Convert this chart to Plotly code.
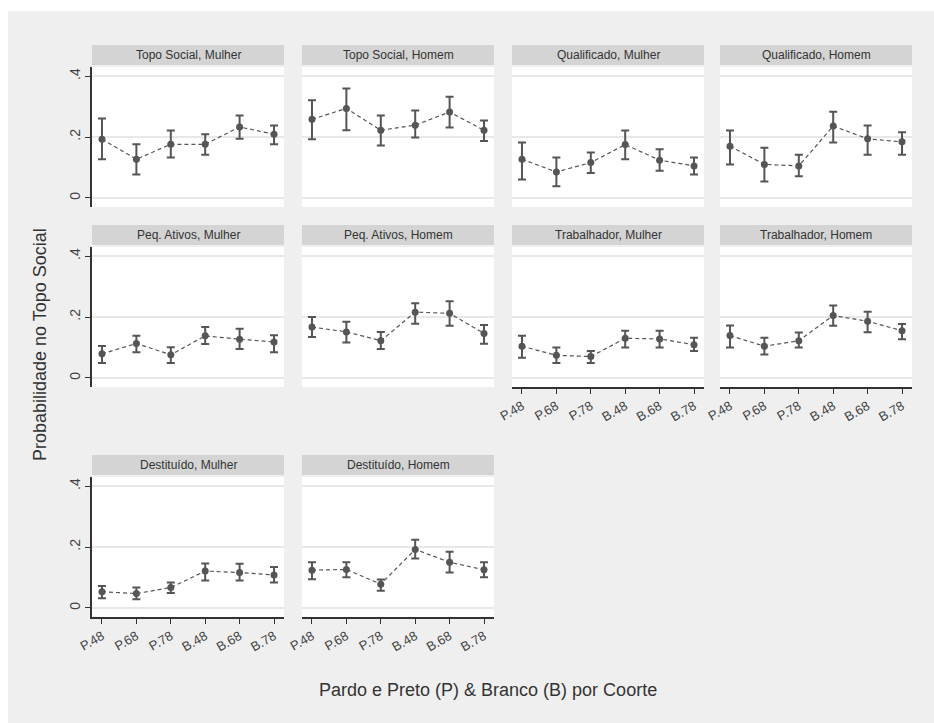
import plotly.graph_objects as go

# Cohort categories on the x axis
cohorts = ["P.48", "P.68", "P.78", "B.48", "B.68", "B.78"]
xpos = [1, 2, 3, 4, 5, 6]

# Panel titles (origin class, sex), in row-major order
panel_titles = [
    "Topo Social, Mulher", "Topo Social, Homem",
    "Qualificado, Mulher", "Qualificado, Homem",
    "Peq. Ativos, Mulher", "Peq. Ativos, Homem",
    "Trabalhador, Mulher", "Trabalhador, Homem",
    "Destituído, Mulher", "Destituído, Homem",
]

# Predicted probabilities and 95% confidence bounds per panel
topo_mulher_est = [0.193, 0.127, 0.176, 0.176, 0.233, 0.209]
topo_mulher_lo = [0.127, 0.077, 0.133, 0.142, 0.194, 0.176]
topo_mulher_hi = [0.261, 0.176, 0.221, 0.209, 0.271, 0.238]

topo_homem_est = [0.258, 0.294, 0.222, 0.239, 0.282, 0.222]
topo_homem_lo = [0.193, 0.222, 0.172, 0.198, 0.231, 0.187]
topo_homem_hi = [0.321, 0.359, 0.271, 0.287, 0.332, 0.254]

qual_mulher_est = [0.127, 0.085, 0.116, 0.175, 0.124, 0.105]
qual_mulher_lo = [0.060, 0.038, 0.082, 0.127, 0.089, 0.077]
qual_mulher_hi = [0.182, 0.133, 0.149, 0.221, 0.160, 0.133]

qual_homem_est = [0.170, 0.110, 0.105, 0.236, 0.194, 0.184]
qual_homem_lo = [0.110, 0.054, 0.071, 0.182, 0.142, 0.142]
qual_homem_hi = [0.221, 0.165, 0.142, 0.283, 0.238, 0.216]

peq_mulher_est = [0.079, 0.113, 0.076, 0.138, 0.127, 0.118]
peq_mulher_lo = [0.049, 0.084, 0.049, 0.111, 0.095, 0.084]
peq_mulher_hi = [0.105, 0.138, 0.101, 0.167, 0.161, 0.140]

peq_homem_est = [0.167, 0.151, 0.122, 0.216, 0.212, 0.146]
peq_homem_lo = [0.134, 0.116, 0.095, 0.178, 0.171, 0.112]
peq_homem_hi = [0.200, 0.184, 0.151, 0.245, 0.252, 0.174]

trab_mulher_est = [0.104, 0.074, 0.070, 0.130, 0.128, 0.109]
trab_mulher_lo = [0.066, 0.049, 0.049, 0.100, 0.100, 0.088]
trab_mulher_hi = [0.138, 0.100, 0.088, 0.155, 0.155, 0.132]

trab_homem_est = [0.139, 0.104, 0.122, 0.205, 0.186, 0.155]
trab_homem_lo = [0.100, 0.077, 0.100, 0.171, 0.150, 0.127]
trab_homem_hi = [0.172, 0.132, 0.149, 0.238, 0.217, 0.177]

dest_mulher_est = [0.053, 0.047, 0.067, 0.121, 0.116, 0.108]
dest_mulher_lo = [0.032, 0.028, 0.049, 0.090, 0.090, 0.083]
dest_mulher_hi = [0.072, 0.067, 0.083, 0.146, 0.145, 0.134]

dest_homem_est = [0.124, 0.126, 0.078, 0.192, 0.150, 0.125]
dest_homem_lo = [0.094, 0.101, 0.056, 0.162, 0.116, 0.101]
dest_homem_hi = [0.150, 0.150, 0.093, 0.224, 0.184, 0.150]

panels = [
    (topo_mulher_est, topo_mulher_lo, topo_mulher_hi),
    (topo_homem_est, topo_homem_lo, topo_homem_hi),
    (qual_mulher_est, qual_mulher_lo, qual_mulher_hi),
    (qual_homem_est, qual_homem_lo, qual_homem_hi),
    (peq_mulher_est, peq_mulher_lo, peq_mulher_hi),
    (peq_homem_est, peq_homem_lo, peq_homem_hi),
    (trab_mulher_est, trab_mulher_lo, trab_mulher_hi),
    (trab_homem_est, trab_homem_lo, trab_homem_hi),
    (dest_mulher_est, dest_mulher_lo, dest_mulher_hi),
    (dest_homem_est, dest_homem_lo, dest_homem_hi),
]

y_ticks = [0, 0.2, 0.4]
y_ticktext = ["0", ".2", ".4"]

W, H = 934, 723
FONT = "Liberation Sans, Arial, sans-serif"
MARK = "#555555"
AXIS = "#333333"

# Pixel geometry of the 3x4 facet grid
col_left = [92, 302, 512, 720]
col_width = 192
row_top = [67, 247, 477]
row_height = 140
strip_h = 20

fig = go.Figure()
layout = {}
shapes = []
annotations = []

for i, (est, lo, hi) in enumerate(panels):
    r, c = divmod(i, 4)
    n = i + 1
    xa = "xaxis" if n == 1 else f"xaxis{n}"
    ya = "yaxis" if n == 1 else f"yaxis{n}"
    xr = "x" if n == 1 else f"x{n}"
    yr = "y" if n == 1 else f"y{n}"

    x0 = col_left[c] / W
    x1 = (col_left[c] + col_width) / W
    y1 = 1 - row_top[r] / H
    y0 = 1 - (row_top[r] + row_height) / H

    err_up = [h - e for h, e in zip(hi, est)]
    err_dn = [e - l for e, l in zip(est, lo)]

    fig.add_trace(go.Scatter(
        x=xpos, y=est, xaxis=xr, yaxis=yr, mode="lines+markers",
        line=dict(color=MARK, width=1.2, dash="4px,3px"),
        marker=dict(color=MARK, size=7, symbol="circle"),
        error_y=dict(type="data", symmetric=False, array=err_up,
                     arrayminus=err_dn, color=MARK, thickness=2, width=4),
        showlegend=False, hoverinfo="skip",
    ))

    bottom_axis = (r == 2) or (r == 1 and c >= 2)
    first_col = c == 0

    layout[xa] = dict(
        domain=[x0, x1], anchor=yr, range=[0.71, 6.29], automargin=False,
        tickvals=xpos, ticktext=cohorts,
        showticklabels=bottom_axis, showgrid=False, zeroline=False,
        showline=bottom_axis, linecolor=AXIS, linewidth=1.5,
        ticks="outside" if bottom_axis else "", ticklen=5, tickwidth=1.2,
        tickcolor=AXIS, tickangle=-30,
        tickfont=dict(family=FONT, size=13, color="#444444"),
        fixedrange=True,
    )
    layout[ya] = dict(
        domain=[y0, y1], anchor=xr, range=[-0.03, 0.43], automargin=False,
        tickvals=y_ticks, ticktext=y_ticktext,
        showticklabels=first_col, showgrid=True, gridcolor="#e8e8e8",
        gridwidth=1.5, zeroline=False,
        showline=first_col, linecolor=AXIS, linewidth=1.5,
        ticks="outside" if first_col else "", ticklen=5, tickwidth=1.2,
        tickcolor=AXIS, tickangle=-90,
        tickfont=dict(family=FONT, size=14, color="#444444"),
        fixedrange=True,
    )

    # Facet strip header
    sy0 = 1 - (row_top[r] - 2) / H
    sy1 = 1 - (row_top[r] - 2 - strip_h) / H
    shapes.append(dict(type="rect", xref="paper", yref="paper",
                       x0=x0, x1=x1, y0=sy0, y1=sy1,
                       fillcolor="#d4d4d4", line=dict(width=0), layer="below"))
    annotations.append(dict(xref="paper", yref="paper",
                            x=(x0 + x1) / 2, y=(sy0 + sy1) / 2,
                            text=panel_titles[i], showarrow=False,
                            xanchor="center", yanchor="middle",
                            font=dict(family=FONT, size=12, color="#333333")))

# White margin along the top and left of the gray canvas
shapes.append(dict(type="rect", xref="paper", yref="paper",
                   x0=0, x1=1, y0=1 - 11 / H, y1=1,
                   fillcolor="white", line=dict(width=0), layer="below"))
shapes.append(dict(type="rect", xref="paper", yref="paper",
                   x0=0, x1=8 / W, y0=0, y1=1,
                   fillcolor="white", line=dict(width=0), layer="below"))

# Shared axis titles
annotations.append(dict(xref="paper", yref="paper", x=488 / W, y=1 - 690 / H,
                        text="Pardo e Preto (P) & Branco (B) por Coorte",
                        showarrow=False, xanchor="center", yanchor="middle",
                        font=dict(family=FONT, size=18, color="#333333")))
annotations.append(dict(xref="paper", yref="paper", x=40 / W, y=1 - 345 / H,
                        text="Probabilidade no Topo Social", textangle=-90,
                        showarrow=False, xanchor="center", yanchor="middle",
                        font=dict(family=FONT, size=18, color="#333333")))

fig.update_layout(
    width=W, height=H,
    margin=dict(l=0, r=0, t=0, b=0, autoexpand=False),
    paper_bgcolor="#efefef", plot_bgcolor="white",
    shapes=shapes, annotations=annotations,
    **layout,
)

fig.write_html("out.html", config={"displayModeBar": False})
